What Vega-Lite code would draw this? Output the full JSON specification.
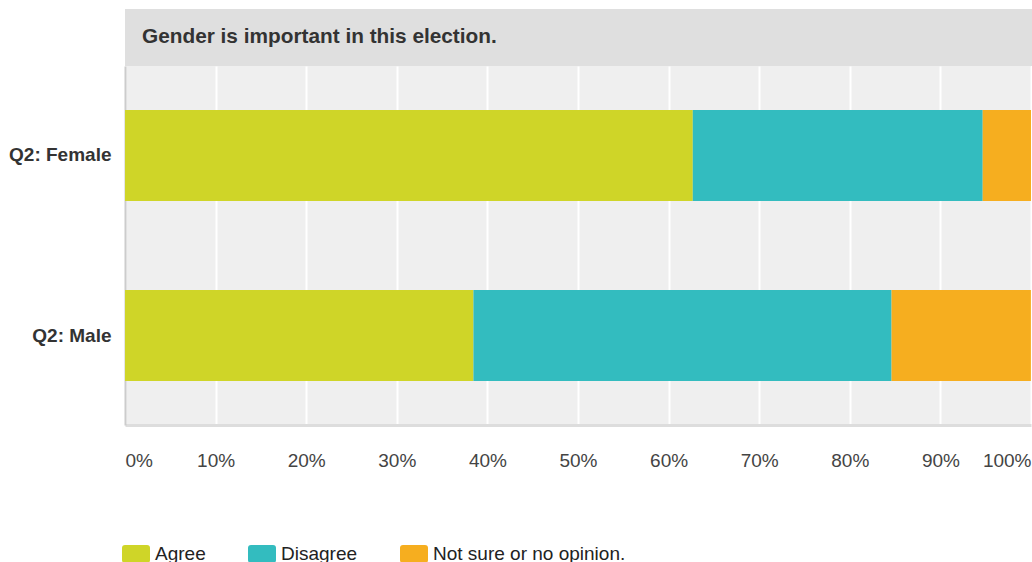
{
  "$schema": "https://vega.github.io/schema/vega-lite/v6.json",
  "padding": {"left": 0, "top": 9, "right": 0, "bottom": 0},
  "background": "white",
  "spacing": 0,
  "config": {"font": "Liberation Sans", "view": {"stroke": null}, "concat": {"spacing": 0}},
  "vconcat": [
    {
      "width": 907,
      "height": 57,
      "view": {"fill": "#dfdfdf", "stroke": null},
      "data": {"values": [{"heading": "Gender is important in this election."}]},
      "mark": {"type": "text", "align": "left", "baseline": "middle", "dx": 17, "dy": -1, "fontSize": 20.8, "fontWeight": "bold", "font": "Liberation Sans", "color": "#333333"},
      "encoding": {
        "x": {"datum": 0, "type": "quantitative", "scale": {"domain": [0, 100]}, "axis": null},
        "text": {"field": "heading"}
      }
    },
    {
      "width": 906,
      "height": 359,
      "view": {"fill": "#efefef", "stroke": null},
      "data": {"values": [
        {"group": "Q2: Female", "answer": "Agree", "pct": 62.67},
        {"group": "Q2: Female", "answer": "Disagree", "pct": 32.00},
        {"group": "Q2: Female", "answer": "Not sure or no opinion.", "pct": 5.33},
        {"group": "Q2: Male", "answer": "Agree", "pct": 38.46},
        {"group": "Q2: Male", "answer": "Disagree", "pct": 46.15},
        {"group": "Q2: Male", "answer": "Not sure or no opinion.", "pct": 15.38}
      ]},
      "mark": {"type": "bar"},
      "encoding": {
        "y": {
          "field": "group", "type": "nominal", "sort": ["Q2: Female", "Q2: Male"],
          "scale": {"paddingInner": 0.494, "paddingOuter": 0.244},
          "axis": {"title": null, "ticks": false, "domain": true, "domainColor": "#cccccc", "domainWidth": 2, "labelFontSize": 19, "labelFontWeight": "bold", "labelColor": "#333333", "labelPadding": 14, "minExtent": 125, "maxExtent": 125, "grid": false, "labelFont": "Liberation Sans"}
        },
        "x": {
          "field": "pct", "type": "quantitative", "stack": "zero",
          "scale": {"domain": [0, 100], "nice": false},
          "axis": {"title": null, "ticks": false, "values": [0, 10, 20, 30, 40, 50, 60, 70, 80, 90, 100], "labelExpr": "datum.value + '%'", "labelFlush": true, "labelFontSize": 19, "labelColor": "#444444", "labelPadding": 26, "domainColor": "#dddddd", "domainWidth": 3, "grid": true, "gridColor": "#ffffff", "gridWidth": 2, "gridOpacity": 1, "labelFont": "Liberation Sans"}
        },
        "color": {
          "field": "answer", "type": "nominal",
          "scale": {"domain": ["Agree", "Disagree", "Not sure or no opinion."], "range": ["#cfd528", "#33bcbf", "#f6ae1f"]},
          "legend": {"title": null, "orient": "none", "legendX": -3, "legendY": 531, "direction": "horizontal", "columns": 3, "symbolType": "M-0.786,-0.643 L0.786,-0.643 Q1,-0.643 1,-0.429 L1,0.429 Q1,0.643 0.786,0.643 L-0.786,0.643 Q-1,0.643 -1,0.429 L-1,-0.429 Q-1,-0.643 -0.786,-0.643 Z", "symbolSize": 784, "symbolStrokeWidth": 0, "symbolOpacity": 1, "labelFontSize": 19, "labelColor": "#222222", "labelOffset": 5, "labelLimit": 0, "columnPadding": 42, "labelFont": "Liberation Sans"}
        }
      }
    }
  ]
}
